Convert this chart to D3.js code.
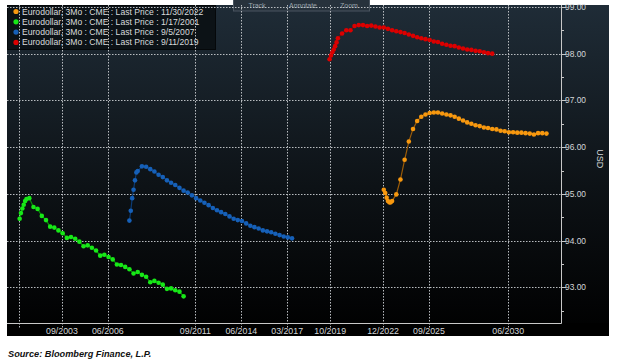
<!DOCTYPE html>
<html>
<head>
<meta charset="utf-8">
<script src="https://cdn.jsdelivr.net/npm/d3@7"></script>
<style>
  body { margin: 0; background: #ffffff; }
  svg { display: block; font-family: "Liberation Sans", Arial, sans-serif; }
</style>
</head>
<body>
<div id="chart"></div>
<script>
// Eurodollar 3Mo futures curves (contract month, last price)
const legendLabels = ["Eurodollar, 3Mo : CME : Last Price : 11/30/2022",
                      "Eurodollar, 3Mo : CME : Last Price : 1/17/2001",
                      "Eurodollar, 3Mo : CME : Last Price : 9/5/2007",
                      "Eurodollar, 3Mo : CME : Last Price : 9/11/2019"]

const months2022 = ["2022-12","2023-01","2023-02","2023-03","2023-04","2023-05","2023-06","2023-09","2023-12",
  "2024-03","2024-06","2024-09","2024-12","2025-03","2025-06","2025-09","2025-12","2026-03","2026-06","2026-09","2026-12",
  "2027-03","2027-06","2027-09","2027-12","2028-03","2028-06","2028-09","2028-12","2029-03","2029-06","2029-09","2029-12",
  "2030-03","2030-06","2030-09","2030-12","2031-03","2031-06","2031-09","2031-12","2032-03","2032-06","2032-09"]
const prices2022 = [95.09,95.02,94.92,94.85,94.82,94.82,94.85,94.99,95.31,
  95.73,96.12,96.39,96.56,96.65,96.70,96.73,96.74,96.74,96.72,96.70,96.68,
  96.65,96.61,96.57,96.53,96.50,96.47,96.45,96.42,96.41,96.39,96.38,96.35,
  96.34,96.32,96.32,96.31,96.31,96.30,96.29,96.27,96.30,96.30,96.29]

const months2001 = ["2001-02","2001-03","2001-04","2001-05","2001-06","2001-07","2001-09","2001-12",
  "2002-03","2002-06","2002-09","2002-12","2003-03","2003-06","2003-09","2003-12","2004-03","2004-06","2004-09","2004-12",
  "2005-03","2005-06","2005-09","2005-12","2006-03","2006-06","2006-09","2006-12","2007-03","2007-06","2007-09","2007-12",
  "2008-03","2008-06","2008-09","2008-12","2009-03","2009-06","2009-09","2009-12","2010-03","2010-06","2010-09","2010-12"]
const prices2001 = [94.47,94.59,94.69,94.77,94.85,94.89,94.91,94.72,
  94.68,94.53,94.44,94.30,94.28,94.22,94.16,94.06,94.08,94.04,93.98,93.88,
  93.90,93.85,93.79,93.68,93.70,93.65,93.60,93.49,93.48,93.44,93.39,93.30,
  93.33,93.27,93.23,93.11,93.14,93.10,93.06,92.97,92.98,92.94,92.91,92.81]

const months2007 = ["2007-09","2007-10","2007-11","2007-12","2008-01","2008-02","2008-03","2008-06","2008-09","2008-12",
  "2009-03","2009-06","2009-09","2009-12","2010-03","2010-06","2010-09","2010-12","2011-03","2011-06","2011-09","2011-12",
  "2012-03","2012-06","2012-09","2012-12","2013-03","2013-06","2013-09","2013-12","2014-03","2014-06","2014-09","2014-12",
  "2015-03","2015-06","2015-09","2015-12","2016-03","2016-06","2016-09","2016-12","2017-03","2017-06"]
const prices2007 = [94.43,94.64,94.91,95.09,95.29,95.46,95.49,95.59,95.58,95.53,
  95.48,95.41,95.36,95.29,95.24,95.19,95.13,95.07,95.03,94.97,94.91,94.86,
  94.81,94.76,94.70,94.65,94.61,94.57,94.52,94.47,94.44,94.42,94.37,94.32,
  94.29,94.26,94.22,94.20,94.18,94.15,94.12,94.09,94.07,94.05]

const months2019 = ["2019-09","2019-10","2019-11","2019-12","2020-01","2020-02","2020-03","2020-06","2020-09","2020-12",
  "2021-03","2021-06","2021-09","2021-12","2022-03","2022-06","2022-09","2022-12","2023-03","2023-06","2023-09","2023-12",
  "2024-03","2024-06","2024-09","2024-12","2025-03","2025-06","2025-09","2025-12","2026-03","2026-06","2026-09","2026-12",
  "2027-03","2027-06","2027-09","2027-12","2028-03","2028-06","2028-09","2028-12","2029-03","2029-06"]
const prices2019 = [97.88,97.96,98.03,98.09,98.16,98.24,98.33,98.43,98.50,98.50,
  98.59,98.61,98.61,98.59,98.60,98.58,98.56,98.56,98.53,98.50,98.48,98.46,
  98.44,98.41,98.38,98.35,98.33,98.31,98.29,98.26,98.25,98.21,98.19,98.17,
  98.16,98.13,98.11,98.09,98.08,98.06,98.05,98.03,98.01,98.00]

const xTickMonths = ["2001-02","2003-09","2006-06","2011-09","2014-06","2017-03","2019-10","2022-12","2025-09","2030-06"]
const xTickLabels = ["","09/2003","06/2006","09/2011","06/2014","03/2017","10/2019","12/2022","09/2025","06/2030"]
const yTicks = [93, 94, 95, 96, 97, 98, 99]
const yMinor = [92.5, 93.5, 94.5, 95.5, 96.5, 97.5, 98.5]
const toolbarItems = ["Track", "Annotate", "Zoom"]

var width = 623, height = 362;
var panel = {left: 7, top: 5, right: 609, bottom: 336};
var plot = {left: 7, top: 5, right: 561, bottom: 323};

var parseMonth = d3.timeParse("%Y-%m");
function contractDate(m) {
  var d = parseMonth(m);
  d.setDate(16);
  return d;
}
function tickDate(m) { return parseMonth(m); }

var series = [
  {months: months2022, prices: prices2022, dot: "#f7980f", line: "#9c5c08"},
  {months: months2001, prices: prices2001, dot: "#17e817", line: "#0b8a0b"},
  {months: months2007, prices: prices2007, dot: "#1660b8", line: "#0c3b73"},
  {months: months2019, prices: prices2019, dot: "#dc0000", line: "#880000"}
];

var x = d3.scaleTime()
  .domain([new Date(2000, 4, 15), new Date(2033, 6, 31)])
  .range([plot.left, plot.right]);

var y = d3.scaleLinear()
  .domain([92.24, 99.04])
  .range([plot.bottom, plot.top]);

var svg = d3.select("#chart").append("svg")
  .attr("width", width)
  .attr("height", height);

var defs = svg.append("defs");
var grad = defs.append("linearGradient")
  .attr("id", "bg").attr("x1", 0).attr("y1", 0).attr("x2", 0).attr("y2", 1);
grad.append("stop").attr("offset", "0%").attr("stop-color", "#1f2c37");
grad.append("stop").attr("offset", "55%").attr("stop-color", "#0d1216");
grad.append("stop").attr("offset", "100%").attr("stop-color", "#000000");

svg.append("rect")
  .attr("x", panel.left).attr("y", panel.top)
  .attr("width", panel.right - panel.left)
  .attr("height", panel.bottom - panel.top)
  .attr("fill", "url(#bg)");

// black strip under the plot for the date labels
svg.append("rect")
  .attr("x", panel.left).attr("y", plot.bottom)
  .attr("width", panel.right - panel.left)
  .attr("height", panel.bottom - plot.bottom)
  .attr("fill", "#000");

// legend box
var legend = svg.append("g");
legend.append("rect")
  .attr("x", 7.5).attr("y", 5.5).attr("width", 208).attr("height", 44)
  .attr("fill", "#0c1216").attr("stroke", "#05080a");

// toolbar stub at the top
var tb = svg.append("g");
tb.append("rect")
  .attr("x", 233.5).attr("y", -3).attr("width", 136).attr("height", 14)
  .attr("fill", "#27323c").attr("stroke", "#4a5560");
tb.selectAll("text")
  .data(toolbarItems)
  .join("text")
  .attr("x", function(d, i){ return 257 + i * 46; })
  .attr("y", 8)
  .attr("text-anchor", "middle")
  .attr("font-size", 7)
  .attr("fill", "#9aa3ab")
  .text(function(d){ return d; });

// grid
var grid = svg.append("g")
  .attr("stroke", "#b8bcc0")
  .attr("stroke-width", 1)
  .attr("stroke-dasharray", "1.5,1.5");

grid.selectAll("line.h")
  .data(yTicks)
  .join("line")
  .attr("class", "h")
  .attr("x1", plot.left).attr("x2", plot.right)
  .attr("y1", function(d){ return Math.round(y(d)) + 0.5; })
  .attr("y2", function(d){ return Math.round(y(d)) + 0.5; });

grid.selectAll("line.v")
  .data(xTickMonths)
  .join("line")
  .attr("class", "v")
  .attr("x1", function(d){ return Math.round(x(tickDate(d))) + 0.5; })
  .attr("x2", function(d){ return Math.round(x(tickDate(d))) + 0.5; })
  .attr("y1", plot.top).attr("y2", plot.bottom + 5);

// legend entries
var entries = legend.selectAll("g.entry")
  .data(series)
  .join("g")
  .attr("class", "entry")
  .attr("transform", function(d, i){ return "translate(0," + (11.5 + i * 10.3) + ")"; });
entries.append("circle")
  .attr("cx", 16).attr("cy", 0).attr("r", 2.6)
  .attr("fill", function(d){ return d.dot; });
entries.append("text")
  .attr("x", 22).attr("y", 3)
  .attr("font-size", 8.6)
  .attr("fill", "#d8dadc")
  .text(function(d, i){ return legendLabels[i]; });

// axes lines
svg.append("line")
  .attr("x1", plot.left).attr("x2", plot.right + 0.5)
  .attr("y1", plot.bottom + 0.5).attr("y2", plot.bottom + 0.5)
  .attr("stroke", "#c8c8c8");
svg.append("line")
  .attr("x1", plot.right + 0.5).attr("x2", plot.right + 0.5)
  .attr("y1", plot.top).attr("y2", plot.bottom + 0.5)
  .attr("stroke", "#c8c8c8");

// right axis ticks and labels
var yAxis = svg.append("g");
yAxis.selectAll("line.major")
  .data(yTicks)
  .join("line")
  .attr("class", "major")
  .attr("x1", plot.right).attr("x2", plot.right + 5)
  .attr("y1", function(d){ return Math.round(y(d)) + 0.5; })
  .attr("y2", function(d){ return Math.round(y(d)) + 0.5; })
  .attr("stroke", "#c8c8c8");
yAxis.selectAll("line.minor")
  .data(yMinor)
  .join("line")
  .attr("class", "minor")
  .attr("x1", plot.right).attr("x2", plot.right + 3)
  .attr("y1", function(d){ return Math.round(y(d)) + 0.5; })
  .attr("y2", function(d){ return Math.round(y(d)) + 0.5; })
  .attr("stroke", "#c8c8c8");
yAxis.selectAll("text")
  .data(yTicks)
  .join("text")
  .attr("x", plot.right + 4)
  .attr("y", function(d){ return y(d) + 3; })
  .attr("font-size", 8.4)
  .attr("fill", "#d4d6d8")
  .text(function(d){ return d.toFixed(2); });

svg.append("text")
  .attr("transform", "translate(597," + y(95.75) + ") rotate(90)")
  .attr("text-anchor", "middle")
  .attr("font-size", 9)
  .attr("fill", "#d4d6d8")
  .text("USD");

// bottom date labels
svg.append("g").selectAll("text")
  .data(xTickMonths)
  .join("text")
  .attr("x", function(d){ return x(tickDate(d)); })
  .attr("y", plot.bottom + 10.5)
  .attr("text-anchor", "middle")
  .attr("font-size", 8.8)
  .attr("fill", "#d4d6d8")
  .text(function(d, i){ return xTickLabels[i]; });

// curves
var line = d3.line()
  .x(function(d){ return x(d.date); })
  .y(function(d){ return y(d.price); });

series.forEach(function(s){
  var pts = s.months.map(function(m, i){ return {date: contractDate(m), price: s.prices[i]}; });
  var g = svg.append("g");
  g.append("path")
    .datum(pts)
    .attr("d", line)
    .attr("fill", "none")
    .attr("stroke", s.line)
    .attr("stroke-width", 1.2);
  g.selectAll("circle")
    .data(pts)
    .join("circle")
    .attr("cx", function(d){ return x(d.date); })
    .attr("cy", function(d){ return y(d.price); })
    .attr("r", 2.3)
    .attr("fill", s.dot);
});

svg.append("text")
  .attr("x", 8).attr("y", 357)
  .attr("font-size", 9.2)
  .attr("font-weight", "bold")
  .attr("font-style", "italic")
  .attr("fill", "#111")
  .text("Source: Bloomberg Finance, L.P.");
</script>
</body>
</html>
